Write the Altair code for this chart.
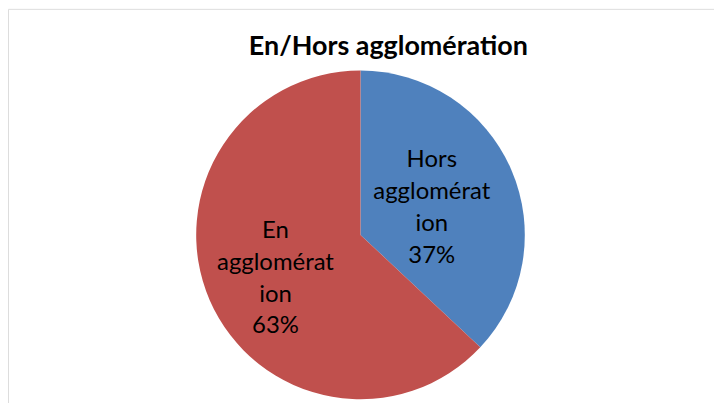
import altair as alt
import pandas as pd

TITLE = "En/Hors agglomération"
categories = ["Hors agglomération", "En agglomération"]
labels = ["Hors\nagglomérat\nion\n37%", "En\nagglomérat\nion\n63%"]
values = [37, 63]
order = [0, 1]
colors = ["#4F81BD", "#C0504D"]

df = pd.DataFrame({"cat": categories, "value": values, "label": labels, "order": order})

CX, CY, R = 354, 227, 165
FONT = "Lato"

base = alt.Chart(df).encode(
    theta=alt.Theta("value:Q", stack=True),
    order=alt.Order("order:Q"),
    x=alt.value(CX),
    y=alt.value(CY),
)

arcs = base.mark_arc(outerRadius=R).encode(
    color=alt.Color("cat:N", scale=alt.Scale(domain=categories, range=colors), legend=None)
)

txt_hors = base.mark_text(radius=78, dy=-44, font=FONT, fontSize=24, lineBreak="\n",
                          lineHeight=32, baseline="middle", align="center", color="black").encode(
    text=alt.condition(alt.datum.cat == categories[0], "label:N", alt.value(""))
)
txt_en = base.mark_text(radius=93, dy=-41, font=FONT, fontSize=24, lineBreak="\n",
                        lineHeight=32, baseline="middle", align="center", color="black").encode(
    text=alt.condition(alt.datum.cat == categories[1], "label:N", alt.value(""))
)

title = alt.Chart(pd.DataFrame({"t": [TITLE]})).mark_text(
    font=FONT, fontSize=27, fontWeight="bold", color="black", baseline="middle", align="center"
).encode(text="t:N", x=alt.value(382), y=alt.value(38))

chart = alt.layer(arcs, txt_hors, txt_en, title).properties(
    width=709, height=400, padding=0, autosize=alt.AutoSizeParams(type="none")
).configure_view(stroke="#979797", strokeWidth=3).configure(background="white")

chart.save("out.html", embed_options={"renderer": "svg", "actions": False})
